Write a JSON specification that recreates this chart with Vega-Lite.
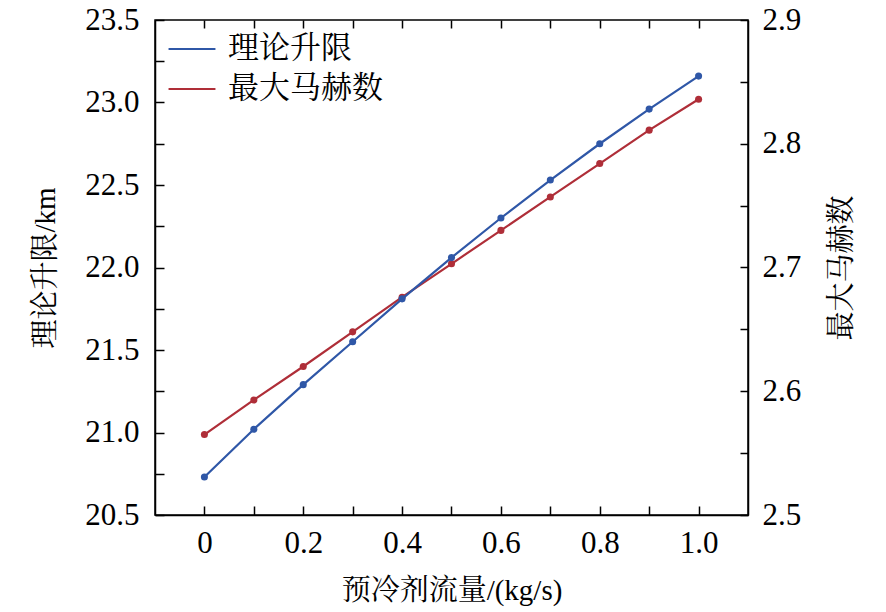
{
  "$schema": "https://vega.github.io/schema/vega-lite/v6.json",
  "width": 593,
  "height": 495,
  "autosize": "none",
  "padding": {"left": 155, "top": 20, "right": 138, "bottom": 97},
  "background": "white",
  "config": {
    "view": {"stroke": "black", "strokeWidth": 1.5},
    "font": "Liberation Serif, Times New Roman, serif",
    "axis": {
      "grid": false,
      "ticks": true,
      "domainColor": "black",
      "domainWidth": 1.5,
      "tickColor": "black",
      "tickOpacity": 1,
      "tickWidth": 1.5,
      "labelColor": "black",
      "titleColor": "black",
      "labelFont": "Liberation Serif, Times New Roman, serif",
      "labelFontSize": 31,
      "titleFont": "Liberation Serif, Noto Serif CJK SC, Noto Sans CJK SC, serif",
      "titleFontSize": 29,
      "titleFontWeight": "normal"
    },
    "legend": {
      "labelFont": "Liberation Serif, Noto Serif CJK SC, Noto Sans CJK SC, serif",
      "labelFontSize": 31,
      "labelColor": "black"
    }
  },
  "data": {
    "values": [
      {"flow": 0.0, "ceiling": 20.73, "mach": 2.565},
      {"flow": 0.1, "ceiling": 21.02, "mach": 2.593},
      {"flow": 0.2, "ceiling": 21.29, "mach": 2.620},
      {"flow": 0.3, "ceiling": 21.55, "mach": 2.648},
      {"flow": 0.4, "ceiling": 21.81, "mach": 2.676},
      {"flow": 0.5, "ceiling": 22.06, "mach": 2.703},
      {"flow": 0.6, "ceiling": 22.30, "mach": 2.730},
      {"flow": 0.7, "ceiling": 22.53, "mach": 2.757},
      {"flow": 0.8, "ceiling": 22.75, "mach": 2.784},
      {"flow": 0.9, "ceiling": 22.96, "mach": 2.811},
      {"flow": 1.0, "ceiling": 23.16, "mach": 2.836}
    ]
  },
  "layer": [
    {
      "mark": {"type": "line", "point": {"filled": true, "size": 50, "opacity": 1}, "strokeWidth": 2.2},
      "encoding": {
        "x": {
          "field": "flow",
          "type": "quantitative",
          "title": "预冷剂流量/(kg/s)",
          "scale": {"domain": [-0.1, 1.1], "nice": false, "zero": false},
          "axis": {
            "orient": "top",
            "values": [0, 0.1, 0.2, 0.3, 0.4, 0.5, 0.6, 0.7, 0.8, 0.9, 1.0],
            "labels": false,
            "title": null,
            "domain": false,
            "tickSize": -8
          }
        },
        "y": {
          "field": "mach",
          "type": "quantitative",
          "title": "最大马赫数",
          "scale": {"domain": [2.5, 2.9], "nice": false, "zero": false},
          "axis": {
            "orient": "right",
            "values": [2.5, 2.55, 2.6, 2.65, 2.7, 2.75, 2.8, 2.85, 2.9],
            "labelExpr": "round(datum.value * 20) % 2 == 0 ? format(datum.value, '.1f') : ''",
            "tickSize": -8,
            "labelPadding": 22,
            "titleAngle": -90,
            "titleBaseline": "top",
            "titlePadding": 27
          }
        },
        "color": {
          "datum": "最大马赫数",
          "scale": {"domain": ["理论升限", "最大马赫数"], "range": ["#2F57A7", "#AF2E38"]},
          "legend": {
            "title": null,
            "orient": "none",
            "legendX": 12,
            "legendY": 4,
            "symbolType": "stroke",
            "symbolSize": 2200,
            "symbolStrokeWidth": 2.2,
            "rowPadding": -5,
            "labelOffset": 11,
            "padding": 0
          }
        }
      }
    },
    {
      "mark": {"type": "line", "point": {"filled": true, "size": 50, "opacity": 1}, "strokeWidth": 2.2},
      "encoding": {
        "x": {
          "field": "flow",
          "type": "quantitative",
          "title": "预冷剂流量/(kg/s)",
          "scale": {"domain": [-0.1, 1.1], "nice": false, "zero": false},
          "axis": {
            "orient": "bottom",
            "values": [0, 0.1, 0.2, 0.3, 0.4, 0.5, 0.6, 0.7, 0.8, 0.9, 1.0],
            "labelExpr": "round(datum.value * 10) % 2 == 0 ? (datum.value == 0 ? '0' : format(datum.value, '.1f')) : ''",
            "tickSize": -9,
            "labelPadding": 22,
            "titlePadding": 18
          }
        },
        "y": {
          "field": "ceiling",
          "type": "quantitative",
          "title": "理论升限/km",
          "scale": {"domain": [20.5, 23.5], "nice": false, "zero": false},
          "axis": {
            "orient": "left",
            "values": [20.5, 20.75, 21, 21.25, 21.5, 21.75, 22, 22.25, 22.5, 22.75, 23, 23.25, 23.5],
            "labelExpr": "round(datum.value * 4) % 2 == 0 ? format(datum.value, '.1f') : ''",
            "tickSize": -9,
            "labelPadding": 25,
            "titlePadding": 24
          }
        },
        "color": {"datum": "理论升限"}
      }
    }
  ],
  "resolve": {"scale": {"x": "independent", "y": "independent"}, "axis": {"x": "independent", "y": "independent"}}
}
